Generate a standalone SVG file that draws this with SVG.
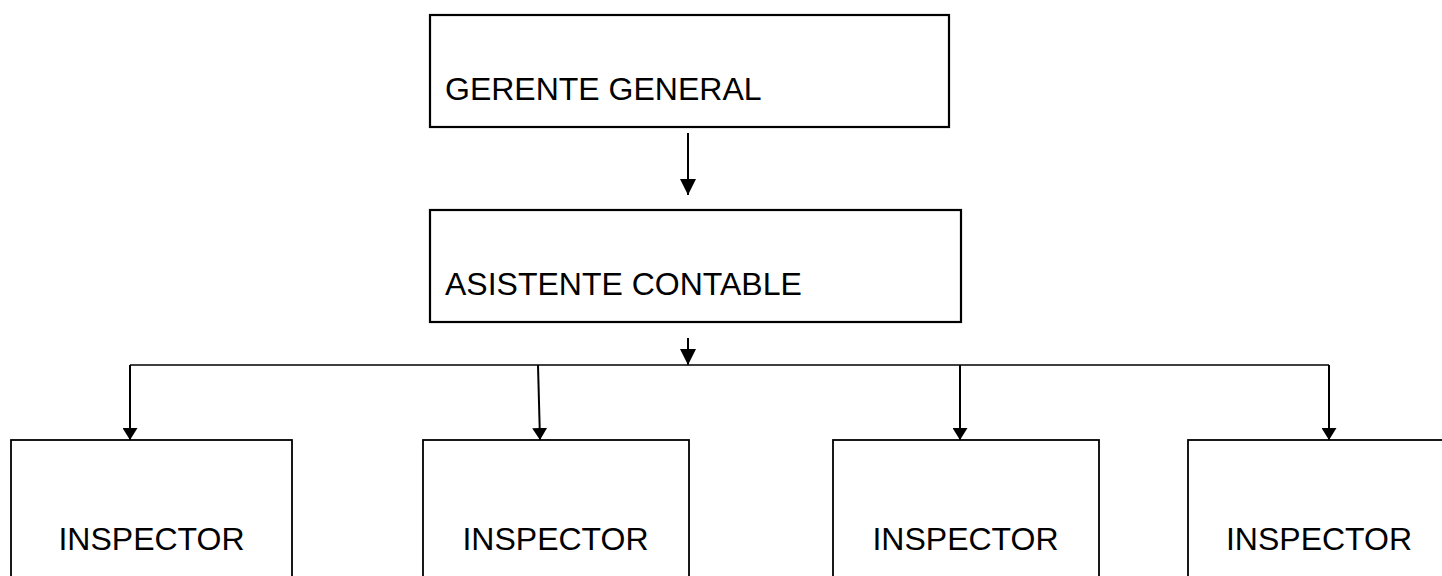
<svg xmlns="http://www.w3.org/2000/svg" width="1442" height="576" viewBox="0 0 1442 576">
  <style>
    .box { fill: #ffffff; stroke: #000000; stroke-width: 2.2; }
    .ibox { fill: #ffffff; stroke: #000000; stroke-width: 1.8; }
    .lbl { font-family: "Liberation Sans", Arial, sans-serif; font-size: 32px; fill: #000000; }
    .ctr { text-anchor: middle; }
    .conn { fill: none; stroke: #000000; stroke-width: 2; }
    .bus { fill: none; stroke: #000000; stroke-width: 1.6; }
  </style>
  <defs>
    <marker id="ahL" markerUnits="userSpaceOnUse" markerWidth="16" markerHeight="16" refX="16" refY="8" orient="auto" viewBox="0 0 16 16">
      <path d="M0,0 L16,8 L0,16 Z" fill="#000000"/>
    </marker>
    <marker id="ahS" markerUnits="userSpaceOnUse" markerWidth="12" markerHeight="15" refX="12" refY="7.5" orient="auto" viewBox="0 0 12 15">
      <path d="M0,0 L12,7.5 L0,15 Z" fill="#000000"/>
    </marker>
  </defs>

  <g id="connectors">
    <line class="conn" x1="688" y1="133" x2="688" y2="195" marker-end="url(#ahL)"/>
    <line class="conn" x1="688" y1="338" x2="688" y2="365" marker-end="url(#ahL)"/>
    <line class="bus" x1="130" y1="365" x2="1329" y2="365"/>
    <line class="conn" x1="130" y1="365" x2="130" y2="440" marker-end="url(#ahS)"/>
    <line class="conn" x1="538" y1="365" x2="540" y2="440" marker-end="url(#ahS)"/>
    <line class="conn" x1="960" y1="365" x2="960" y2="440" marker-end="url(#ahS)"/>
    <line class="conn" x1="1329" y1="365" x2="1329" y2="440" marker-end="url(#ahS)"/>
  </g>

  <g id="gerente">
    <rect class="box" x="430" y="15" width="519" height="112"/>
    <text class="lbl" x="445" y="100">GERENTE GENERAL</text>
  </g>

  <g id="asistente">
    <rect class="box" x="430" y="210" width="531" height="112"/>
    <text class="lbl" x="445" y="295">ASISTENTE CONTABLE</text>
  </g>

  <g id="inspector1">
    <rect class="ibox" x="11" y="440" width="281" height="160"/>
    <text class="lbl ctr" x="151.5" y="550">INSPECTOR</text>
  </g>

  <g id="inspector2">
    <rect class="ibox" x="423" y="440" width="266" height="160"/>
    <text class="lbl ctr" x="555.5" y="550">INSPECTOR</text>
  </g>

  <g id="inspector3">
    <rect class="ibox" x="833" y="440" width="266" height="160"/>
    <text class="lbl ctr" x="965.5" y="550">INSPECTOR</text>
  </g>

  <g id="inspector4">
    <rect class="ibox" x="1188" y="440" width="262" height="160"/>
    <text class="lbl ctr" x="1319" y="550">INSPECTOR</text>
  </g>
</svg>
